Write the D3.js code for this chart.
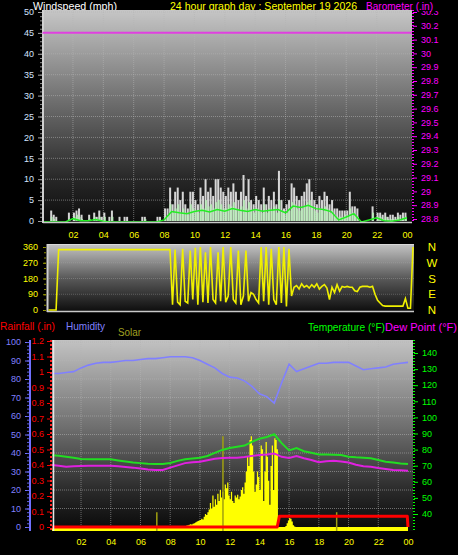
<!DOCTYPE html>
<html><head><meta charset="utf-8">
<script src="https://cdn.jsdelivr.net/npm/d3@7/dist/d3.min.js"></script>
<style>
html,body{margin:0;padding:0;background:#000;}
svg{display:block;}
text{font-family:"Liberation Sans",Arial,sans-serif;}
</style></head>
<body>
<script>
// ---------------- DATA ----------------
const titleText = "24 hour graph day : September 19 2026";
const hourTicks = [2,4,6,8,10,12,14,16,18,20,22,24];
const hourLabels = ["02","04","06","08","10","12","14","16","18","20","22","00"];

// wind (mph), 10-minute slots starting 00:00
const windGust = [
 0,0,0,2.5,1.5,1,  0,0,0,0,2,0,  2,2.5,3,1.5,0,0,  1.5,0,2,1,2.5,1,
 2,0,1,2.5,0,0,  1,0,1,1,0,0,  0,0,0,1,1,0,  0,0,0,1,1,0,
 3,3,8,4,7,8,  5,7,4,3,7,7,  5,4,8,6,10,7,  8,6,10,10,8,7,
 6,8,7,9,7,5,  7,11,6,10,5,4,  6,5,4,8,4,6,  5,7,4,12,5,3,
 4,5,9,8,6,5,  6,7,9,10,7,5,  4,6,5,7,6,4,  5,3,3,2.5,2.5,2.5,
 2.5,7,3.5,3.5,3,0,  0,0,0,0,3.5,0,  2,2,1.5,2,1,1.5,  1.5,1,2,1.5,2,2];
const windSpeed = [
 0,0,0,1,0.5,0,  0,0,0,0,0.5,0,  1,1.5,1,0.5,0,0,  0.5,0,1,0.5,1,0,
 1,0,0,1,0,0,  0,0,0,0,0,0,  0,0,0,0,0.5,0,  0,0,0,0,0,0,
 1,1.5,4,2,3,4,  2,3,2,1.5,4,3,  2.5,2,4,3,5,3.5,  4,3,4.5,5,4,3,
 3,4,3.5,4.5,3,2.5,  3.5,5,3,4.5,2.5,2,  3,2.5,2,4,2,3,  2.5,3.5,2,5,2.5,1.5,
 2,2.5,4.5,4,3,2.5,  3,3.5,4.5,5,3.5,2.5,  2,3,2.5,3.5,3,2,  2.5,1.5,1,1,1,1.5,
 1,3,2,1.5,1,0,  0,0,0,0,2,0,  1,1,0.5,1,0.5,0.5,  0.5,0.5,1,0.5,1,1];
// average wind line, 30-minute points 00:00 .. 24:00
const windAvg = [0,0,0,0,0.8,0.3,0.3,0.6,0.2,0,0,0,0,0,0,0,0.5,2.5,2.2,2,2.5,2.8,2.4,3,2.6,3.2,2.8,2.5,3,2.6,2.8,3,2.2,3.8,3.5,4,3.2,3,2.5,0.5,1.2,2,0,0.5,1,0.3,0.2,0.5,1];
// barometer (in), hourly
const baro = [30.15,30.15,30.15,30.15,30.15,30.15,30.15,30.15,30.15,30.15,30.15,30.15,30.15,30.15,30.15,30.15,30.15,30.15,30.15,30.15,30.15,30.15,30.15,30.15,30.15];

// wind direction (deg), 10-minute slots + final point at 24:00
const windDir = [
 0,0,0,0,345,345,
 345,345,345,345,345,345, 345,345,345,345,345,345, 345,345,345,345,345,345,
 345,345,345,345,345,345, 345,345,345,345,345,345, 345,345,345,345,345,345,
 345,345,345,345,345,345,
 345,30,345,45,30,350,  50,40,340,60,355,30,  360,45,330,40,360,60,
 40,330,50,360,45,80,  360,60,40,340,30,80,  340,50,100,90,60,40,
 360,50,360,30,350,60,  30,360,40,360,20,350,
 80,130,140,120,150,130,  140,125,145,130,150,120,  135,145,125,60,130,100,
 145,108,135,130,135,130,  130,110,105,130,135,135,  135,130,135,90,55,40,
 25,22,22,22,22,22,  22,22,22,65,10,10,  360];

// 30-minute points 00:00 .. 24:00
const humidity = [83,83,83.5,84,86,87.5,88.5,89,89,89.5,90,90,90.5,91,91,91.5,92,92,92,91.5,90,88,86,83,81,80.5,79,76,72,70.5,67,78,88,84,85.5,87,88.5,88.5,89,89,89,87,85,85.5,86,86.5,88,88.5,89];
const temperature = [76.6,76.2,75.6,75,74.2,74,74,74,74,73.3,72.6,72,71.6,71.2,71,71,71.7,73,74,74.5,75,76,78,79.8,81,81.8,82.5,84.8,86.8,87.8,89.5,84,79.5,81,79,78,77,77,76.8,76.6,75.6,75.2,75,74.6,73.5,72.5,72,71.4,71];
const dewPoint = [70.4,70,69.4,69.6,69.8,70,70,70,70,69.6,69.2,68.8,68.2,67.6,67.3,67.3,68.8,70.2,71.6,72.2,72.5,73.4,74.3,74.8,75,75,75.4,76.1,76.6,77,77.6,75.5,74.8,76,74.6,73.5,72.1,72.8,73,72.6,72,70.6,69.6,69.4,68.6,68,67.4,67.1,66.9];

// rainfall (in)
const rainHours = [0,15.2,15.35,23.95,24];
const rainValues = [0,0,0.07,0.07,0];

// solar (W/m2), 5-minute slots starting 09:00
const solarStart = 9;
const solar = [
 5,8,10,12,15,14,18,20,25,28,32,35,
 38,45,40,55,70,65,80,95,130,100,170,110,
 150,120,180,140,200,160,190,150,230,210,240,170,
 150,190,140,130,170,160,175,150,165,200,215,180,
 240,300,380,330,470,490,440,300,190,230,300,270,
 200,440,420,140,300,460,380,250,120,330,440,200,
 480,470,420,0,0,0,0,0,0,5,20,35,
 48,45,30,10,3,0,0];
const solarMarkHours = [7.1,11.55,19.2];
const solarMarkValues = [80,490,80];

const windTicks = [0,5,10,15,20,25,30,35,40,45,50];
const baroTicks = [28.8,28.9,29,29.1,29.2,29.3,29.4,29.5,29.6,29.7,29.8,29.9,30,30.1,30.2,30.3];
const dirTicks = [0,90,180,270,360];
const dirLetters = ["N","E","S","W","N"];
const humTicks = [0,10,20,30,40,50,60,70,80,90,100];
const rainTicks = [0,0.1,0.2,0.3,0.4,0.5,0.6,0.7,0.8,0.9,1,1.1,1.2];
const tempTicks = [40,50,60,70,80,90,100,110,120,130,140];

// ---------------- DRAW ----------------
const W = 458, H = 555;
const svg = d3.select("body").append("svg").attr("width", W).attr("height", H);
svg.append("rect").attr("width", W).attr("height", H).attr("fill", "#000");
const defs = svg.append("defs");
function grad(id, stops){
  const g = defs.append("linearGradient").attr("id", id).attr("x1",0).attr("x2",0).attr("y1",0).attr("y2",1);
  stops.forEach(s => g.append("stop").attr("offset", s[0]).attr("stop-color", s[1]));
}
grad("gTop", [[0,"#c6c6c6"],[0.45,"#6a6a6a"],[0.8,"#262626"],[1,"#0c0c0c"]]);
grad("gMid", [[0,"#c4c4c4"],[0.5,"#5a5a5a"],[1,"#0c0c0c"]]);
grad("gBot", [[0,"#c2c2c2"],[0.45,"#707070"],[0.8,"#282828"],[1,"#080808"]]);
const clipBaro = defs.append("clipPath").attr("id","clipBaro");
clipBaro.append("rect").attr("x",400).attr("y",11).attr("width",58).attr("height",220);

const F = 9;
function txt(x, y, s, color, len){
  return svg.append("text").attr("x", x).attr("y", y).text(s).attr("fill", color)
    .attr("font-size", 11).attr("textLength", len).attr("lengthAdjust","spacingAndGlyphs");
}

// ====== TOP PANEL ======
const T = {x0:43, x1:412, y0:10, y1:223};
txt(33, 9.5, "Windspeed (mph)", "#ffffff", 84);
txt(170, 9.5, titleText, "#ffff00", 187);
txt(366, 9.5, "Barometer (.in)", "#ff00ff", 67);

const xTop = d3.scaleLinear([0,24],[42.6,407]);
const yWind = d3.scaleLinear([0,50],[221,12]);
const yBaro = d3.scaleLinear([28.8,30.3],[219,12]);

svg.append("rect").attr("x", T.x0).attr("y", T.y0).attr("width", T.x1-T.x0).attr("height", T.y1-T.y0).attr("fill","url(#gTop)");
const gTop = svg.append("g");
// grid
gTop.selectAll(".vg").data(d3.range(2,24,2)).join("line")
  .attr("x1", d=>xTop(d)).attr("x2", d=>xTop(d)).attr("y1", T.y0).attr("y2", T.y1)
  .attr("stroke","#b4b4b4").attr("stroke-opacity",0.55).attr("stroke-dasharray","1,1");
gTop.selectAll(".hg").data(windTicks.slice(1)).join("line")
  .attr("x1", T.x0).attr("x2", T.x1).attr("y1", d=>yWind(d)).attr("y2", d=>yWind(d))
  .attr("stroke","#b4b4b4").attr("stroke-opacity",0.55).attr("stroke-dasharray","1,1");
// wind bars
gTop.selectAll(".gust").data(windGust).join("rect")
  .attr("x",(d,i)=>xTop(i/6)).attr("width",2).attr("y",d=>yWind(d)).attr("height",d=>Math.max(0,yWind(0)-yWind(d)))
  .attr("fill","#f0f0f0").attr("fill-opacity",0.88);
gTop.selectAll(".spd").data(windSpeed).join("rect")
  .attr("x",(d,i)=>xTop(i/6)+0.5).attr("width",2).attr("y",d=>yWind(d)).attr("height",d=>Math.max(0,yWind(0)-yWind(d)))
  .attr("fill","#b8f0b8").attr("fill-opacity",0.85);
gTop.append("path").datum(windAvg)
  .attr("d", d3.line().x((d,i)=>xTop(i/2)).y(d=>yWind(d)+1))
  .attr("fill","none").attr("stroke","#22ee22").attr("stroke-width",1.5);
// baseline + borders
gTop.append("line").attr("x1",T.x0).attr("x2",T.x1).attr("y1",T.y1-0.5).attr("y2",T.y1-0.5).attr("stroke","#c8c8c8").attr("stroke-width",1.5);
gTop.append("line").attr("x1",T.x0).attr("x2",T.x0).attr("y1",T.y0).attr("y2",T.y1).attr("stroke","#d0d0d0").attr("stroke-width",2);
// barometer
gTop.append("path").datum(baro)
  .attr("d", d3.line().x((d,i)=>i===baro.length-1 ? T.x1 : xTop(i)).y(d=>yBaro(d)))
  .attr("fill","none").attr("stroke","#e040e0").attr("stroke-width",2);

// left wind axis
const axW = svg.append("g").attr("transform",`translate(${T.x0-1},0)`)
  .call(d3.axisLeft(yWind).tickValues(windTicks).tickSize(4).tickFormat(d3.format("d")));
axW.select(".domain").remove();
axW.selectAll("line").attr("stroke","#a0a0a0");
axW.selectAll("text").attr("fill","#d4e4ff").attr("font-size",F).attr("font-family","Liberation Sans").attr("dx",-1).attr("dy","0.3em");
const axWm = svg.append("g").attr("transform",`translate(${T.x0-1},0)`)
  .call(d3.axisLeft(yWind).tickValues(d3.range(0,51,1)).tickSize(2).tickFormat(""));
axWm.select(".domain").remove(); axWm.selectAll("line").attr("stroke","#909090");

// right baro axis
svg.append("line").attr("x1",T.x1+1).attr("x2",T.x1+1).attr("y1",T.y0).attr("y2",T.y1).attr("stroke","#ff00ff").attr("stroke-width",2).attr("stroke-dasharray","1,2");
const baroWrap = svg.append("g").attr("clip-path","url(#clipBaro)");
const axB = baroWrap.append("g").attr("transform",`translate(${T.x1+1},0)`)
  .call(d3.axisRight(yBaro).tickValues(baroTicks).tickSize(4).tickFormat(d=>d3.format(".1f")(d).replace(/\.0$/,"")));
axB.select(".domain").remove();
axB.selectAll("line").attr("stroke","#ff00ff");
axB.selectAll("text").attr("fill","#ff00ff").attr("font-size",F).attr("font-family","Liberation Sans").attr("dx",1).attr("dy","0.3em");

// x labels top
const axX1 = svg.append("g").attr("transform",`translate(0,${T.y1})`)
  .call(d3.axisBottom(xTop).tickValues(hourTicks).tickSize(0).tickFormat((d,i)=>hourLabels[i]));
axX1.select(".domain").remove();
axX1.selectAll("text").attr("fill","#ffff00").attr("font-size",F).attr("font-family","Liberation Sans").attr("y",9);

// ====== MIDDLE PANEL ======
const M = {x0:47, x1:414, y0:244, y1:312};
const xDir = d3.scaleLinear([0,24],[48.5,413]);
const yDir = d3.scaleLinear([0,360],[310,247]);
svg.append("rect").attr("x",M.x0).attr("y",M.y0).attr("width",M.x1-M.x0).attr("height",M.y1-M.y0).attr("fill","url(#gMid)");
svg.selectAll(".dg").data(dirTicks.slice(1,4)).join("line")
  .attr("x1",M.x0).attr("x2",M.x1).attr("y1",d=>yDir(d)).attr("y2",d=>yDir(d))
  .attr("stroke","#b0b0b0").attr("stroke-opacity",0.35).attr("stroke-dasharray","1,1");
svg.append("line").attr("x1",M.x0).attr("x2",M.x1).attr("y1",M.y1-0.5).attr("y2",M.y1-0.5).attr("stroke","#c8c8c8").attr("stroke-width",1.5);
svg.append("line").attr("x1",M.x0+0.5).attr("x2",M.x0+0.5).attr("y1",M.y0).attr("y2",M.y1).attr("stroke","#d0d0d0").attr("stroke-width",2);
svg.append("line").attr("x1",M.x0).attr("x2",M.x1).attr("y1",M.y0+0.5).attr("y2",M.y0+0.5).attr("stroke","#d8d8d8").attr("stroke-width",1);
svg.append("path").datum(windDir)
  .attr("d", d3.line().x((d,i)=>xDir(i/6)).y(d=>yDir(d)))
  .attr("fill","none").attr("stroke","#f0f000").attr("stroke-width",1.6);
const axD = svg.append("g").attr("transform",`translate(${M.x0-1},0)`)
  .call(d3.axisLeft(yDir).tickValues(dirTicks).tickSize(3).tickFormat(d3.format("d")));
axD.select(".domain").remove();
axD.selectAll("line").attr("stroke","#a0a000");
axD.selectAll("text").attr("fill","#ffff00").attr("font-size",F).attr("font-family","Liberation Sans").attr("dx",-2).attr("dy","0.3em");
const axDm = svg.append("g").attr("transform",`translate(${M.x0-1},0)`)
  .call(d3.axisLeft(yDir).tickValues(d3.range(0,361,30)).tickSize(2).tickFormat(""));
axDm.select(".domain").remove(); axDm.selectAll("line").attr("stroke","#909000");
svg.selectAll(".dl").data(dirTicks).join("text")
  .attr("x",432).attr("y",d=>yDir(d)+4).attr("text-anchor","middle")
  .text((d,i)=>dirLetters[i]).attr("fill","#ffff00").attr("font-size",11.5);

// ====== BOTTOM PANEL ======
const B = {x0:52, x1:413, y0:340, y1:531};
txt(0, 330, "Rainfall (.in)", "#ff0000", 55);
txt(66, 330, "Humidity", "#8080ff", 39);
txt(118, 336, "Solar", "#a0a020", 23);
txt(308, 331, "Temperature (°F)", "#00ff00", 77);
txt(385, 331, "Dew Point (°F)", "#ff00ff", 72);

const xBot = d3.scaleLinear([0,24],[51.3,408]);
const yHum = d3.scaleLinear([0,100],[527,342]);
const yRain = d3.scaleLinear([0,1.2],[527,341]);
const yTemp = d3.scaleLinear([40,140],[514,353]);
const ySolar = d3.scaleLinear([0,1000],[527,342]);

svg.append("rect").attr("x",B.x0).attr("y",B.y0).attr("width",B.x1-B.x0).attr("height",B.y1-B.y0).attr("fill","url(#gBot)");
const clipB = defs.append("clipPath").attr("id","clipB");
clipB.append("rect").attr("x",B.x0).attr("y",B.y0).attr("width",B.x1-B.x0).attr("height",B.y1-B.y0);
const gB = svg.append("g").attr("clip-path","url(#clipB)");
gB.selectAll(".vg").data(d3.range(2,24,2)).join("line")
  .attr("x1",d=>xBot(d)).attr("x2",d=>xBot(d)).attr("y1",B.y0).attr("y2",B.y1)
  .attr("stroke","#b4b4b4").attr("stroke-opacity",0.55).attr("stroke-dasharray","1,1");
gB.selectAll(".hg").data(humTicks.slice(1)).join("line")
  .attr("x1",B.x0).attr("x2",B.x1).attr("y1",d=>yHum(d)).attr("y2",d=>yHum(d))
  .attr("stroke","#b4b4b4").attr("stroke-opacity",0.55).attr("stroke-dasharray","1,1");

// solar
const solarSeries = [[0,0]].concat(solar.map((v,i)=>[solarStart+i/12, v]), [[24,0]]);
gB.append("path").datum(solarSeries)
  .attr("d", d3.area().x(d=>xBot(d[0])).y0(B.y1).y1(d=>ySolar(d[1])).curve(d3.curveStepAfter))
  .attr("fill","#ffff00");
gB.selectAll(".sm").data(solarMarkHours).join("line")
  .attr("x1",d=>xBot(d)).attr("x2",d=>xBot(d)).attr("y1",B.y1).attr("y2",(d,i)=>ySolar(solarMarkValues[i]))
  .attr("stroke","#a0a010").attr("stroke-width",1.5);
// humidity
gB.append("path").datum(humidity)
  .attr("d", d3.line().x((d,i)=>xBot(i/2)).y(d=>yHum(d)))
  .attr("fill","none").attr("stroke","#8080ff").attr("stroke-width",1.6);
// temperature & dew point
gB.append("path").datum(temperature)
  .attr("d", d3.line().x((d,i)=>xBot(i/2)).y(d=>yTemp(d)))
  .attr("fill","none").attr("stroke","#22dd22").attr("stroke-width",2);
gB.append("path").datum(dewPoint)
  .attr("d", d3.line().x((d,i)=>xBot(i/2)).y(d=>yTemp(d)))
  .attr("fill","none").attr("stroke","#e020e0").attr("stroke-width",2);
// rain
gB.append("path").datum(rainHours.map((h,i)=>[h, rainValues[i]]))
  .attr("d", d3.line().x(d=>xBot(d[0])).y(d=>yRain(d[1])))
  .attr("fill","none").attr("stroke","#ff0000").attr("stroke-width",3).attr("stroke-linejoin","round");

// left border of bottom plot
svg.append("line").attr("x1",B.x0+1.5).attr("x2",B.x0+1.5).attr("y1",B.y0).attr("y2",B.y1).attr("stroke","#e8e8e8").attr("stroke-width",1.5);
// rain axis (red dotted)
svg.append("line").attr("x1",B.x0-1).attr("x2",B.x0-1).attr("y1",B.y0).attr("y2",B.y1).attr("stroke","#ff2020").attr("stroke-width",2).attr("stroke-dasharray","2,2");
const axR = svg.append("g").attr("transform",`translate(${B.x0-2},0)`)
  .call(d3.axisLeft(yRain).tickValues(rainTicks).tickSize(3).tickFormat(d=>d===0?"0":d3.format(".1f")(d).replace(/\.0$/,"")));
axR.select(".domain").remove();
axR.selectAll("line").attr("stroke","#ff0000");
axR.selectAll("text").attr("fill","#ff0000").attr("font-size",F).attr("font-family","Liberation Sans").attr("dx",0).attr("dy","0.3em");
// humidity axis (blue)
svg.append("line").attr("x1",30).attr("x2",30).attr("y1",B.y0).attr("y2",B.y1).attr("stroke","#7070ff").attr("stroke-width",2);
const axH = svg.append("g").attr("transform","translate(29,0)")
  .call(d3.axisLeft(yHum).tickValues(humTicks).tickSize(4).tickFormat(d3.format("d")));
axH.select(".domain").remove();
axH.selectAll("line").attr("stroke","#7070ff");
axH.selectAll("text").attr("fill","#8080ff").attr("font-size",F).attr("font-family","Liberation Sans").attr("dx",-1).attr("dy","0.3em");
const axHm = svg.append("g").attr("transform","translate(29,0)")
  .call(d3.axisLeft(yHum).tickValues(d3.range(0,101,2)).tickSize(2).tickFormat(""));
axHm.select(".domain").remove(); axHm.selectAll("line").attr("stroke","#6060e0");
// temperature axis (green)
svg.append("line").attr("x1",B.x1+1).attr("x2",B.x1+1).attr("y1",B.y0).attr("y2",B.y1).attr("stroke","#00ff00").attr("stroke-width",2).attr("stroke-dasharray","1,2");
const axT = svg.append("g").attr("transform",`translate(${B.x1+1},0)`)
  .call(d3.axisRight(yTemp).tickValues(tempTicks).tickSize(4).tickFormat(d3.format("d")));
axT.select(".domain").remove();
axT.selectAll("line").attr("stroke","#00ff00");
axT.selectAll("text").attr("fill","#00ff00").attr("font-size",F).attr("font-family","Liberation Sans").attr("dx",1).attr("dy","0.3em");
// x labels bottom
const axX2 = svg.append("g").attr("transform",`translate(0,${B.y1})`)
  .call(d3.axisBottom(xBot).tickValues(hourTicks).tickSize(0).tickFormat((d,i)=>hourLabels[i]));
axX2.select(".domain").remove();
axX2.selectAll("text").attr("fill","#ffff00").attr("font-size",F).attr("font-family","Liberation Sans").attr("y",8);
</script>
</body></html>
